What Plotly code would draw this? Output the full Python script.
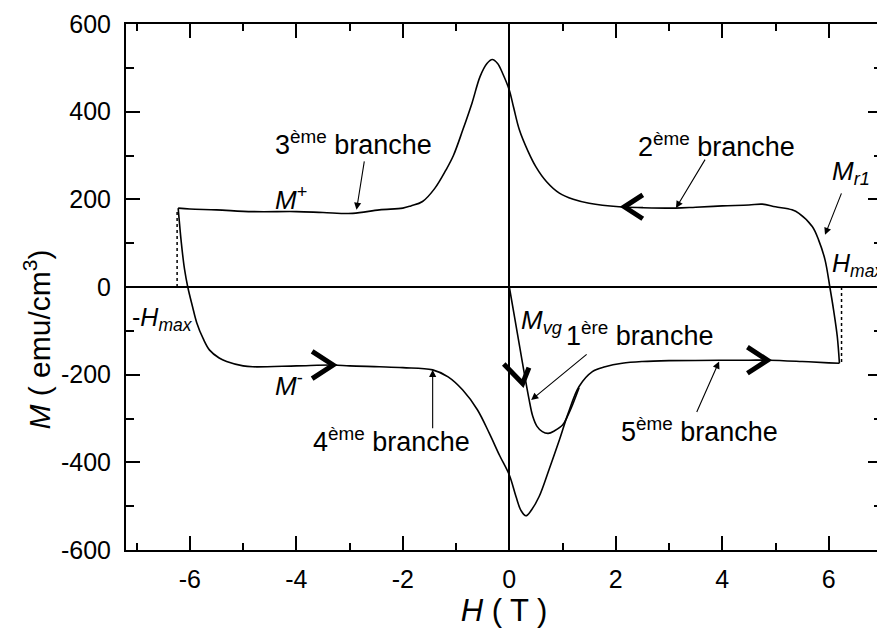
import math
import plotly.graph_objects as go

# ---------------- data ----------------
# upper branch of the loop (2nd + 3rd branch), from +Hmax to -Hmax
upper_H = [6.20, 6.16, 6.09, 6.02, 5.93, 5.81, 5.69, 5.44, 5.31, 5.0, 4.75, 4.5, 4.0, 3.5, 3.12,
           2.5, 2.06, 1.5, 1.2, 0.94, 0.7, 0.5, 0.35, 0.19, 0.08, 0.0, -0.125, -0.22, -0.32,
           -0.42, -0.55, -0.7, -0.875, -1.05, -1.19, -1.4, -1.63, -1.85, -2.0, -2.44, -2.94,
           -3.5, -4.0, -4.82, -5.5, -6.0, -6.22]
upper_M = [-174, -113, -52, 0, 62, 107, 138, 168, 176, 183, 189, 187, 185, 182, 180,
           181, 183, 191, 200, 214, 240, 274, 310, 358, 410, 449, 487, 510, 519,
           510, 480, 420, 358, 300, 267, 225, 195, 185, 180, 176, 168,
           170, 172, 172, 176, 178, 180]

# lower branch of the loop (4th + 5th branch), from -Hmax to +Hmax
lower_H = [-6.22, -6.16, -6.10, -6.04, -5.95, -5.87, -5.75, -5.63, -5.45, -5.31, -5.0, -4.82,
           -4.0, -3.31, -3.0, -2.44, -2.0, -1.44, -1.15, -0.875, -0.6, -0.375, -0.18, 0.0,
           0.125, 0.22, 0.31, 0.42, 0.56, 0.75, 0.94, 1.1, 1.31, 1.56, 1.8, 2.12, 2.5, 3.0,
           3.94, 4.5, 4.875, 5.5, 6.0, 6.20]
lower_M = [180, 100, 40, 0, -45, -82, -118, -144, -162, -170, -180, -182,
           -180, -178, -180, -182, -184, -189, -205, -235, -280, -334, -385, -429,
           -478, -510, -522, -508, -478, -415, -349, -290, -227, -193, -182, -174, -170, -168,
           -167, -167, -167, -170, -173, -174]

# virgin curve (1st branch)
virgin_H = [0.0, 0.1, 0.2, 0.3, 0.37, 0.44, 0.52, 0.62, 0.73, 0.85, 1.0, 1.1, 1.19, 1.31]
virgin_M = [0, -70, -140, -210, -256, -295, -318, -330, -334, -328, -315, -293, -268, -230]

# dotted lines at +/- Hmax
hmax_H = [-6.24, 6.24]
hmax_M = [178, -176]

# direction chevrons: tip position, screen direction, arm lengths (px)
chev_H = [2.16, -3.31, 0.25, 4.85]
chev_M = [183, -178, -220, -167]
chev_dir = [(-1, 0), (1, 0), (0.2, 1), (1, 0)]
chev_arms = [(22, 22), (25, 25), (17, 27), (24, 24)]

# thin arrows: head position (data) and tail offset (px)
arr_H = [-2.87, 3.13, 5.93, -1.44, 0.41, 3.94]
arr_M = [176, 180, 119, -189, -258, -170]
arr_ax = [8, 30, 17, 0, 57, -23]
arr_ay = [-50, -50, -43, 60, -47, 52]

# text labels: left x, middle y (data), font size
lab_text = ["3<sup>ème</sup> branche", "<i>M</i><sup>+</sup>", "2<sup>ème</sup> branche",
            "<i>M<sub>r1</sub></i>", "<i>H<sub>max</sub></i>", "-<i>H<sub>max</sub></i>",
            "<i>M</i><sup>-</sup>", "4<sup>ème</sup> branche", "<i>M<sub>vg</sub></i>",
            "1<sup>ère</sup> branche", "5<sup>ème</sup> branche"]
lab_H = [-4.44, -4.44, 2.38, 6.03, 6.03, -7.13, -4.44, -3.72, 0.19, 1.03, 2.06]
lab_M = [328, 201, 324, 262, 50, -72, -222, -349, -79, -107, -326]
lab_size = [27, 26, 27, 26, 25, 25, 26, 27, 26, 27, 27]

x_range = [-7.2, 7.0]
y_range = [-600, 600]
x_ticks = [-6, -4, -2, 0, 2, 4, 6]
y_ticks = [-600, -400, -200, 0, 200, 400, 600]

x_title = "<i>H</i> ( T )"
y_title = "<i>M</i> ( emu/cm<sup>3</sup>)"

# ---------------- layout geometry ----------------
# (page body has an 8px margin, so the figure is 8px smaller and offset)
W, H = 877, 623
ML, MR, MT, MB = 118, 3, 16, 81
px_per_x = (W - ML - MR) / (x_range[1] - x_range[0])
px_per_y = (H - MT - MB) / (y_range[1] - y_range[0])

FONT = "Liberation Sans, Arial, sans-serif"

fig = go.Figure()

line_style = dict(color="black", width=1.6)
fig.add_trace(go.Scatter(x=upper_H, y=upper_M, mode="lines", line=line_style, line_shape="spline"))
fig.add_trace(go.Scatter(x=lower_H, y=lower_M, mode="lines", line=line_style, line_shape="spline"))
fig.add_trace(go.Scatter(x=virgin_H, y=virgin_M, mode="lines", line=line_style, line_shape="spline"))

# dotted verticals from the loop tips down/up to M = 0
dx, dy = [], []
for h, m in zip(hmax_H, hmax_M):
    dx += [h, h, None]
    dy += [0, m, None]
fig.add_trace(go.Scatter(x=dx, y=dy, mode="lines",
                         line=dict(color="black", width=1.5, dash="dot")))

# chevrons
cx, cy = [], []
half = math.radians(33)
for h, m, (ux, uy), arms in zip(chev_H, chev_M, chev_dir, chev_arms):
    n = math.hypot(ux, uy)
    ux, uy = ux / n, uy / n
    bx, by = -ux, -uy
    pts = []
    for s, L in zip((1, -1), arms):
        rx = bx * math.cos(s * half) - by * math.sin(s * half)
        ry = bx * math.sin(s * half) + by * math.cos(s * half)
        pts.append((h + rx * L / px_per_x, m - ry * L / px_per_y))
    cx += [pts[0][0], h, pts[1][0], None]
    cy += [pts[0][1], m, pts[1][1], None]
fig.add_trace(go.Scatter(x=cx, y=cy, mode="lines",
                         line=dict(color="black", width=5)))

annotations = []
for h, m, ax, ay in zip(arr_H, arr_M, arr_ax, arr_ay):
    annotations.append(dict(x=h, y=m, ax=ax, ay=ay, text="", showarrow=True,
                            arrowhead=2, arrowsize=1.3, arrowwidth=1.1,
                            arrowcolor="black", standoff=0))
for t, h, m, s in zip(lab_text, lab_H, lab_M, lab_size):
    annotations.append(dict(x=h, y=m, text=t, showarrow=False, xanchor="left",
                            yanchor="middle", font=dict(family=FONT, size=s, color="black")))
# y axis title (placed as rotated text, slightly below the axis centre like the reference)
annotations.append(dict(xref="paper", yref="paper", x=0, y=0.40, xshift=-89,
                        xanchor="center", yanchor="middle", textangle=-90, showarrow=False,
                        text=y_title, font=dict(family=FONT, size=30, color="black")))

axis_common = dict(
    showline=True, linecolor="black", linewidth=2, mirror="ticks",
    ticks="inside", ticklen=14, tickwidth=1.5, tickcolor="black",
    showgrid=False, zeroline=True, zerolinecolor="black", zerolinewidth=2,
    tickfont=dict(family=FONT, size=25, color="black"), automargin=False,
)

fig.update_layout(
    width=W, height=H,
    margin=dict(l=ML, r=MR, t=MT, b=MB),
    paper_bgcolor="white", plot_bgcolor="white",
    showlegend=False,
    annotations=annotations,
    xaxis=dict(range=x_range, tickvals=x_ticks, ticktext=[str(v) for v in x_ticks],
               minor=dict(ticks="inside", ticklen=7, dtick=1, tick0=0, tickcolor="black", tickwidth=1.5),
               ticklabelstandoff=6,
               title=dict(text=x_title, font=dict(family=FONT, size=31, color="black"),
                          standoff=4),
               **axis_common),
    yaxis=dict(range=y_range, tickvals=y_ticks, ticktext=[str(v) for v in y_ticks],
               minor=dict(ticks="inside", ticklen=8, dtick=100, tick0=0, tickcolor="black", tickwidth=1.5),
               ticklabelstandoff=8,
               **axis_common),
)

fig.write_html("out.html")
